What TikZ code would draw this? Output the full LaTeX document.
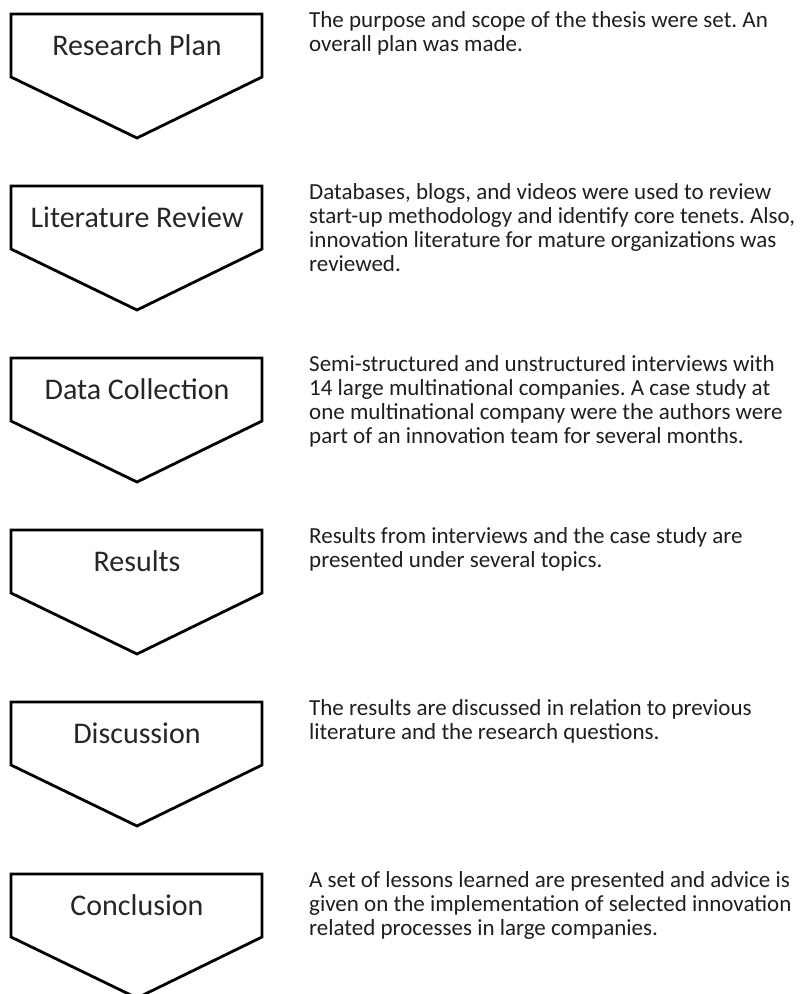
\documentclass[tikz,border=0pt]{standalone}
\usepackage{fontspec}
\setmainfont{Carlito}
\frenchspacing
\begin{document}
\begin{tikzpicture}[x=1pt,y=1pt,
  chevron/.style={draw=black,line width=2.8pt,line join=miter,fill=white},
  steplabel/.style={anchor=base,inner sep=0pt,font=\fontsize{30}{34}\selectfont,text=black!85},
  desc/.style={anchor=north west,inner sep=0pt,align=left,font=\fontsize{23}{24}\selectfont,text=black!88}]
\fill[white] (0,0) rectangle (806,-994);
\useasboundingbox (0,0) rectangle (806,-994);
\clip (0,0) rectangle (806,-994);
\foreach \y/\nm/\lab in {14/plan/Research Plan,186/lit/Literature Review,358/data/Data Collection,530/res/Results,702/disc/Discussion,874/conc/Conclusion}{
  \draw[chevron] (11,-\y) -- (262,-\y) -- (262,-\y-63) -- (137,-\y-124) -- (11,-\y-63) -- cycle;
  \node[steplabel] (\nm) at (137,-\y-41) {\lab};
}
\node[desc] (dplan) at (309,-14+5) {\rule{0pt}{18pt}The purpose and scope of the thesis were set. An\\overall plan was made.};
\node[desc] (dlit) at (309,-186+5) {\rule{0pt}{18pt}Databases, blogs, and videos were used to review\\start-up methodology and identify core tenets. Also,\\innovation literature for mature organizations was\\reviewed.};
\node[desc] (ddata) at (309,-358+5) {\rule{0pt}{18pt}Semi-structured and unstructured interviews with\\14 large multinational companies. A case study at\\one multinational company were the authors were\\part of an innovation team for several months.};
\node[desc] (dres) at (309,-530+5) {\rule{0pt}{18pt}Results from interviews and the case study are\\presented under several topics.};
\node[desc] (ddisc) at (309,-702+5) {\rule{0pt}{18pt}The results are discussed in relation to previous\\literature and the research questions.};
\node[desc] (dconc) at (309,-874+5) {\rule{0pt}{18pt}A set of lessons learned are presented and advice is\\given on the implementation of selected innovation\\related processes in large companies.};
\end{tikzpicture}
\end{document}
